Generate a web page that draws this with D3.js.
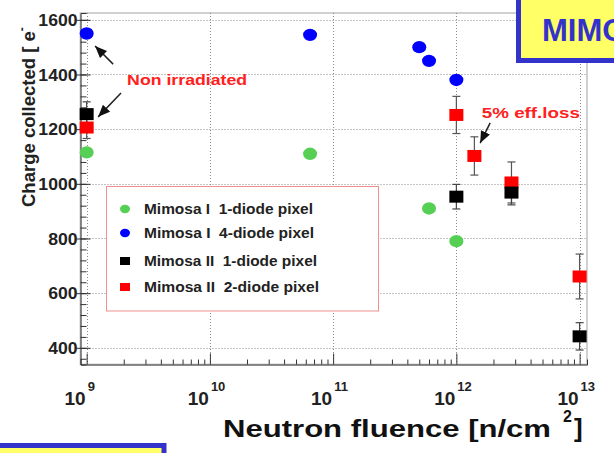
<!DOCTYPE html>
<html>
<head>
<meta charset="utf-8">
<script src="https://cdn.jsdelivr.net/npm/d3@7"></script>
<style>
    body { margin: 0; background: #fff; }
    svg { display: block; font-family: "Liberation Sans", Arial, sans-serif; font-weight: bold; }
</style>
</head>
<body>
<svg id="chart" width="614" height="453"></svg>
<script>
// --- Data ---
const yTicks = [400, 600, 800, 1000, 1200, 1400, 1600];
const xDecades = [1e9, 1e10, 1e11, 1e12, 1e13];
const xExponents = ["9", "10", "11", "12", "13"];

const m1OneFluence = [1e9, 6.5e10, 6e11, 1e12];
const m1OneCharge = [1115, 1110, 910, 790];

const m1FourFluence = [1e9, 6.5e10, 5e11, 6e11, 1e12];
const m1FourCharge = [1550, 1545, 1500, 1450, 1380];

const m2OneFluence = [1e9, 1e12, 2.8e12, 1e13];
const m2OneCharge = [1255, 953, 968, 442];
const m2OneErr = [45, 45, 45, 50];

const m2TwoFluence = [1e9, 1e12, 1.4e12, 2.8e12, 1e13];
const m2TwoCharge = [1206, 1252, 1102, 1005, 661];
const m2TwoErr = [40, 68, 70, 75, 82];

const legendLabels = ["Mimosa I  1-diode pixel", "Mimosa I  4-diode pixel",
                      "Mimosa II  1-diode pixel", "Mimosa II  2-diode pixel"];
const legendColors = ["#55d055", "#0000ff", "#000000", "#ff0000"];
const legendShapes = ["circle", "circle", "square", "square"];

const zip = (xs, ys, es) => xs.map((x, i) => ({ x, y: ys[i], e: es ? es[i] : 0 }));

// --- Setup ---
const svg = d3.select("#chart");
const plotL = 80.5, plotR = 587, plotT = 13, plotB = 364.5;

const x = d3.scaleLog().domain([Math.pow(10, 8.95), Math.pow(10, 13.06)]).range([plotL, plotR]);
const y = d3.scaleLinear().domain([339, 1625]).range([plotB, plotT]);

svg.append("rect").attr("width", 614).attr("height", 453).attr("fill", "#fff");

// frame (light, top/right)
svg.append("rect")
    .attr("x", plotL).attr("y", plotT)
    .attr("width", plotR - plotL).attr("height", plotB - plotT)
    .attr("fill", "none").attr("stroke", "#d0d0d0").attr("stroke-width", 2);

// grid
const grid = svg.append("g").attr("stroke", "#8a8a8a").attr("stroke-dasharray", "1,2");
grid.selectAll(".gx").data(xDecades).join("line")
    .attr("x1", d => Math.round(x(d)) + 0.5).attr("x2", d => Math.round(x(d)) + 0.5)
    .attr("y1", plotT).attr("y2", plotB);
grid.selectAll(".gy").data(yTicks).join("line")
    .attr("x1", plotL).attr("x2", plotR)
    .attr("y1", d => Math.round(y(d)) + 0.5).attr("y2", d => Math.round(y(d)) + 0.5);

// axes (ROOT-like inside ticks)
const axisColor = "#333";
const yAxis = d3.axisLeft(y).tickValues(d3.range(360, 1625, 40)).tickSize(-6).tickFormat("");
svg.append("g").attr("transform", `translate(${plotL},0)`).call(yAxis)
    .call(g => g.selectAll("line,path").attr("stroke", axisColor));
svg.append("g").attr("transform", `translate(${plotL},0)`)
    .call(d3.axisLeft(y).tickValues(yTicks).tickSize(-10).tickPadding(6).tickFormat(d3.format("d")))
    .call(g => g.select(".domain").remove())
    .call(g => g.selectAll("line").attr("stroke", axisColor).attr("x1", -4))
    .call(g => g.selectAll("text").attr("class", "ytick").attr("font-size", 16)
        .attr("font-family", "Liberation Sans, Arial, sans-serif").attr("font-weight", "bold")
        .attr("fill", "#222").attr("x", -3).attr("dy", "0.36em"));

const minorX = [];
for (let p = 9; p <= 12; p++) for (let k = 2; k <= 9; k++) minorX.push(k * Math.pow(10, p));
svg.append("g").attr("transform", `translate(0,${plotB})`)
    .call(d3.axisBottom(x).tickValues(minorX).tickSize(-5).tickFormat(""))
    .call(g => g.selectAll("line,path").attr("stroke", axisColor));
svg.append("g").attr("transform", `translate(0,${plotB})`)
    .call(d3.axisBottom(x).tickValues(xDecades).tickSize(-11).tickFormat(""))
    .call(g => g.select(".domain").remove())
    .call(g => g.selectAll("line").attr("stroke", axisColor));

// x tick labels: 10^n
const xl = svg.append("g").attr("fill", "#222");
xl.selectAll(".b").data(xDecades).join("text")
    .attr("x", d => x(d) - 1).attr("y", 405)
    .attr("text-anchor", "end").attr("font-size", 19).text("10");
xl.selectAll(".e").data(xDecades).join("text")
    .attr("x", d => x(d) + 1).attr("y", 391)
    .attr("font-size", 13).text((d, i) => xExponents[i]);

// legend
const lg = svg.append("g");
lg.append("rect").attr("x", 106.5).attr("y", 186.5).attr("width", 272).attr("height", 124.5)
    .attr("fill", "#fff").attr("stroke", "#f09090");
const legendRowY = [209, 233, 261, 287];
const legendLen = [169, 170, 173, 175];
legendLabels.forEach((lab, i) => {
    if (legendShapes[i] === "circle") {
        lg.append("ellipse").attr("cx", 125).attr("cy", legendRowY[i]).attr("rx", 5).attr("ry", 4.2)
            .attr("fill", legendColors[i]);
    } else {
        lg.append("rect").attr("x", 120).attr("y", legendRowY[i] - 4).attr("width", 10).attr("height", 8)
            .attr("fill", legendColors[i]);
    }
    lg.append("text").attr("x", 144).attr("y", legendRowY[i] + 5)
        .attr("font-size", 14).attr("fill", "#222").style("white-space", "pre")
        .attr("textLength", legendLen[i]).attr("lengthAdjust", "spacingAndGlyphs")
        .text(lab);
});

// error bars
function errorBars(data, color) {
    const g = svg.append("g").attr("stroke", color).attr("stroke-width", 1.2);
    data.forEach(d => {
        const cx = x(d.x);
        g.append("line").attr("x1", cx).attr("x2", cx).attr("y1", y(d.y + d.e)).attr("y2", y(d.y - d.e));
        g.append("line").attr("x1", cx - 4).attr("x2", cx + 4).attr("y1", y(d.y + d.e)).attr("y2", y(d.y + d.e));
        g.append("line").attr("x1", cx - 4).attr("x2", cx + 4).attr("y1", y(d.y - d.e)).attr("y2", y(d.y - d.e));
    });
}
errorBars(zip(m2TwoFluence, m2TwoCharge, m2TwoErr), "#555");
errorBars(zip(m2OneFluence, m2OneCharge, m2OneErr), "#444");

function circles(data, color) {
    svg.append("g").selectAll("ellipse").data(data).join("ellipse")
        .attr("cx", d => x(d.x)).attr("cy", d => y(d.y)).attr("rx", 7).attr("ry", 6.2)
        .attr("fill", color);
}
function squares(data, color) {
    svg.append("g").selectAll("rect").data(data).join("rect")
        .attr("x", d => x(d.x) - 7).attr("y", d => y(d.y) - 6)
        .attr("width", 14).attr("height", 12).attr("fill", color);
}
circles(zip(m1OneFluence, m1OneCharge), legendColors[0]);
circles(zip(m1FourFluence, m1FourCharge), legendColors[1]);
squares(zip(m2TwoFluence, m2TwoCharge), legendColors[3]);
squares(zip(m2OneFluence, m2OneCharge), legendColors[2]);

// annotations (data coordinates)
svg.append("defs").append("marker")
    .attr("id", "head").attr("viewBox", "0 0 12 10").attr("refX", 12).attr("refY", 5)
    .attr("markerWidth", 12).attr("markerHeight", 10).attr("markerUnits", "userSpaceOnUse")
    .attr("orient", "auto")
    .append("path").attr("d", "M0,0 L12,5 L0,10 z").attr("fill", "#111");

const arrows = [
    { from: [1.64e9, 1438], to: [1.17e9, 1504] },
    { from: [1.9e9, 1332], to: [1.24e9, 1245] },
    { from: [1.88e12, 1223], to: [1.56e12, 1149] }
];
svg.append("g").selectAll("line").data(arrows).join("line")
    .attr("x1", d => x(d.from[0])).attr("y1", d => y(d.from[1]))
    .attr("x2", d => x(d.to[0])).attr("y2", d => y(d.to[1]))
    .attr("stroke", "#222").attr("stroke-width", 1.5).attr("marker-end", "url(#head)");

svg.append("text").attr("x", x(2.13e9)).attr("y", y(1362))
    .attr("font-size", 15).attr("fill", "#ff2020")
    .attr("textLength", 120).attr("lengthAdjust", "spacingAndGlyphs").text("Non irradiated");
svg.append("text").attr("x", x(1.61e12)).attr("y", y(1241))
    .attr("font-size", 15.5).attr("fill", "#ff2020")
    .attr("textLength", 98).attr("lengthAdjust", "spacingAndGlyphs").text("5% eff.loss");

// axis titles
const yTitle = svg.append("text").attr("transform", "translate(35,207) rotate(-90)")
    .attr("font-size", 18.5).attr("fill", "#222");
yTitle.append("tspan").text("Charge collected [ e");
yTitle.append("tspan").attr("dy", -9).attr("font-size", 12).text("-");

svg.append("text").attr("x", 223).attr("y", 437).attr("font-size", 24).attr("fill", "#111")
    .attr("textLength", 328).attr("lengthAdjust", "spacingAndGlyphs").text("Neutron fluence [n/cm");
svg.append("text").attr("x", 563).attr("y", 422).attr("font-size", 16).attr("fill", "#111").text("2");
svg.append("text").attr("x", 574).attr("y", 437).attr("font-size", 26).attr("fill", "#111").text("]");

// widen y tick labels a touch (picture is stretched horizontally)
svg.selectAll(".ytick").each(function () {
    const len = this.getComputedTextLength();
    d3.select(this).attr("textLength", len * 1.1).attr("lengthAdjust", "spacingAndGlyphs");
});

// slide boxes
svg.append("rect").attr("x", 518.5).attr("y", -5).attr("width", 120).attr("height", 65.5)
    .attr("fill", "#ffff66").attr("stroke", "#3333cc").attr("stroke-width", 5);
svg.append("text").attr("x", 542).attr("y", 41).attr("font-size", 31).attr("fill", "#3333cc")
    .text("MIMOSA");
svg.append("rect").attr("x", -5).attr("y", 445.5).attr("width", 169).attr("height", 20)
    .attr("fill", "#ffff66").attr("stroke", "#3333cc").attr("stroke-width", 5);
</script>
</body>
</html>
